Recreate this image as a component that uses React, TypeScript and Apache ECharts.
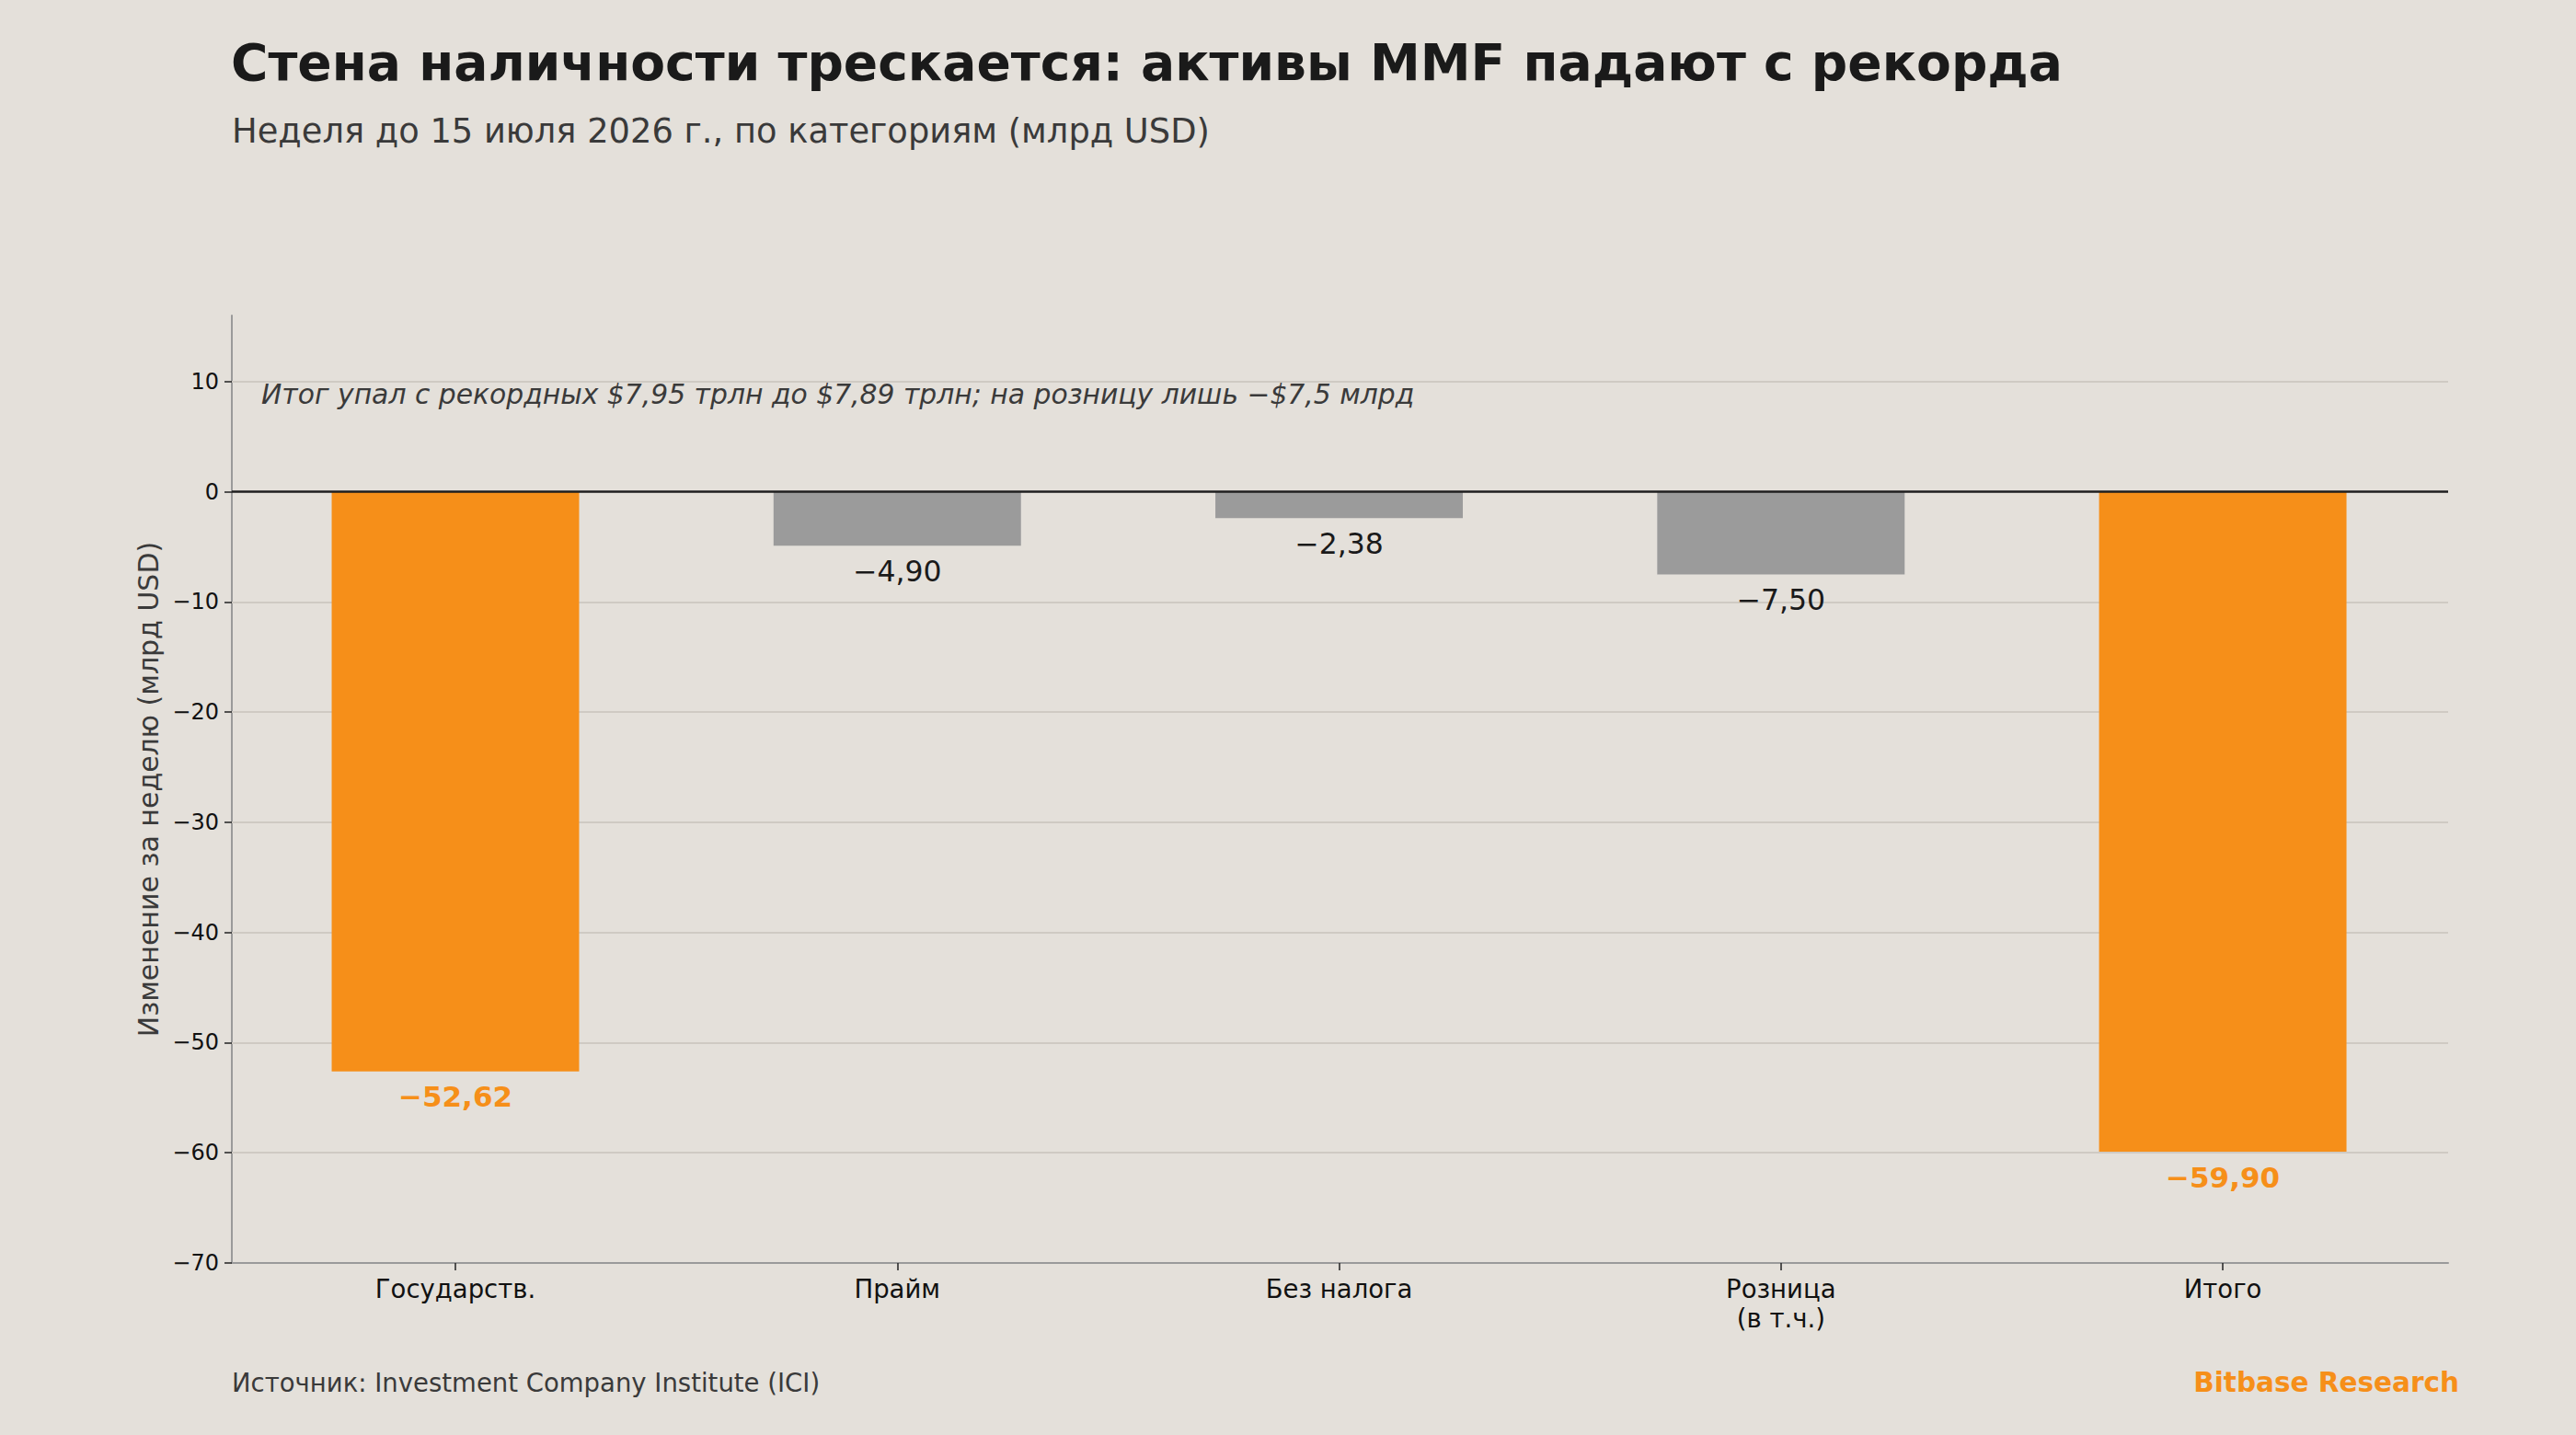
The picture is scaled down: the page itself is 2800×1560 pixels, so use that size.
import React, { useEffect, useRef } from "react";
import * as echarts from "echarts";

const categories = ["Государств.", "Прайм", "Без налога", "Розница\n(в т.ч.)", "Итого"];
const weeklyChange = [-52.62, -4.9, -2.38, -7.5, -59.9];
const highlighted = ["Государств.", "Итого"];
const yTicks = [-70, -60, -50, -40, -30, -20, -10, 0, 10];
const gridTicks = [-60, -50, -40, -30, -20, -10, 10];
const xPositions = [0, 1, 2, 3, 4];
const yMin = -70;
const yMax = 16;
const xMin = -0.506;
const xMax = 4.51;

const TITLE = "Стена наличности трескается: активы MMF падают с рекорда";
const SUBTITLE = "Неделя до 15 июля 2026 г., по категориям (млрд USD)";
const NOTE = "Итог упал с рекордных $7,95 трлн до $7,89 трлн; на розницу лишь −$7,5 млрд";
const Y_NAME = "Изменение за неделю (млрд USD)";
const SOURCE = "Источник: Investment Company Institute (ICI)";
const BRAND = "Bitbase Research";

const ORANGE = "#F68F19";
const GREY = "#9B9B9B";
const BG = "#E4E0DA";
const FONT = "DejaVu Sans";

const fmt = (v: number) => (v < 0 ? "\u2212" : "") + Math.abs(v).toFixed(2).replace(".", ",");
const fmtTick = (v: number) => (v < 0 ? "\u2212" : "") + String(Math.abs(v));

export default function App() {
  const ref = useRef<HTMLDivElement>(null);
  useEffect(() => {
    if (!ref.current) return;
    const chart = echarts.init(ref.current, undefined, { renderer: "svg" });
    const data = weeklyChange.map((v, i) => {
      const hi = highlighted.includes(categories[i]);
      return {
        value: [xPositions[i], v],
        itemStyle: { color: hi ? ORANGE : GREY },
        label: {
          color: hi ? ORANGE : "#1a1a1a",
          fontWeight: hi ? "bold" : "normal",
          fontSize: hi ? 31 : 31.5,
        },
      };
    });
    chart.setOption({
      animation: false,
      backgroundColor: BG,
      textStyle: { fontFamily: FONT },
      grid: { left: 252, right: 139, top: 343, bottom: 187, containLabel: false },
      xAxis: {
        type: "value",
        min: xMin,
        max: xMax,
        axisLine: { show: true, onZero: false, lineStyle: { color: "#9a9a9a", width: 2 } },
        axisTick: { show: true, length: 8, lineStyle: { color: "#222", width: 1.5 }, customValues: xPositions },
        axisLabel: {
          color: "#111",
          fontSize: 27.5,
          fontFamily: FONT,
          margin: 12,
          lineHeight: 32,
          customValues: xPositions,
          formatter: (v: number) => categories[Math.round(v)] ?? "",
        },
        splitLine: { show: false },
      },
      yAxis: {
        type: "value",
        min: yMin,
        max: yMax,
        interval: 10,
        axisLine: { show: true, onZero: false, lineStyle: { color: "#9a9a9a", width: 2 } },
        axisTick: { show: true, length: 8, lineStyle: { color: "#222", width: 1.5 }, customValues: yTicks },
        axisLabel: {
          color: "#111",
          fontSize: 24,
          fontFamily: FONT,
          margin: 14,
          customValues: yTicks,
          formatter: (v: number) => fmtTick(v),
        },
        splitLine: { show: false },
      },
      series: [
        {
          type: "line",
          data: [],
          silent: true,
          markLine: {
            silent: true,
            symbol: "none",
            z: 1,
            label: { show: false },
            lineStyle: { color: "#CFCAC3", width: 2, type: "solid" },
            data: gridTicks.map((t) => ({ yAxis: t })),
          },
        },
        {
          type: "bar",
          data,
          barWidth: "56%",
          z: 2,
          label: {
            show: true,
            position: "bottom",
            distance: 12,
            fontFamily: FONT,
            formatter: (p: any) => fmt(p.value[1]),
          },
          markLine: {
            silent: true,
            symbol: "none",
            z: 3,
            label: { show: false },
            lineStyle: { color: "#1f1f1f", width: 2.5, type: "solid" },
            data: [{ yAxis: 0 }],
          },
        },
      ],
      graphic: [
        {
          type: "text",
          x: 251,
          y: 68,
          style: { text: TITLE, fontSize: 55.1, fontWeight: "bold", fontFamily: FONT, fill: "#1a1a1a", verticalAlign: "middle" },
        },
        {
          type: "text",
          x: 252,
          y: 142,
          style: { text: SUBTITLE, fontSize: 36.8, fontFamily: FONT, fill: "#3a3a3a", verticalAlign: "middle" },
        },
        {
          type: "text",
          x: 284,
          y: 428,
          z: 10,
          style: { text: NOTE, fontSize: 29.8, fontStyle: "italic", fontFamily: FONT, fill: "#3a3a3a", verticalAlign: "middle" },
        },
        {
          type: "text",
          x: 161,
          y: 858,
          rotation: Math.PI / 2,
          style: { text: Y_NAME, fontSize: 30, fontFamily: FONT, fill: "#3a3a3a", align: "center", verticalAlign: "middle" },
        },
        {
          type: "text",
          x: 252,
          y: 1503,
          style: { text: SOURCE, fontSize: 27.5, fontFamily: FONT, fill: "#3a3a3a", verticalAlign: "middle" },
        },
        {
          type: "text",
          x: 2673,
          y: 1503,
          style: { text: BRAND, fontSize: 29.5, fontWeight: "bold", fontFamily: FONT, fill: ORANGE, align: "right", verticalAlign: "middle" },
        },
      ],
    });
    return () => chart.dispose();
  }, []);
  return (
    <div
      ref={ref}
      style={{ position: "fixed", left: 0, top: 0, width: 2800, height: 1560 }}
    />
  );
}
